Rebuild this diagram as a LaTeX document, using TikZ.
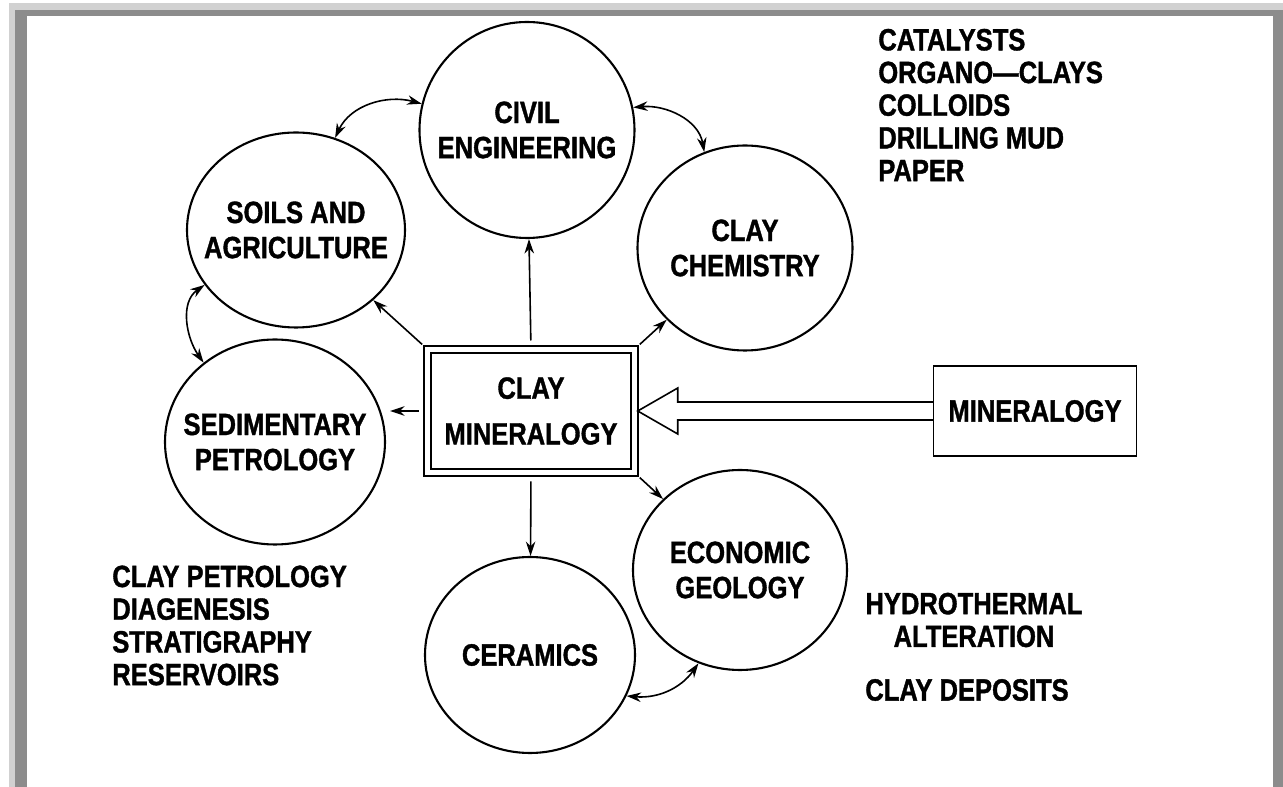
\documentclass[tikz,border=0pt]{standalone}
\usepackage{fontspec}
\setmainfont{Liberation Sans}[FakeStretch=0.83, BoldFeatures={FakeBold=1.2}]
\usetikzlibrary{arrows.meta, calc, shapes.geometric}

\newcommand{\diagfont}{\bfseries\fontsize{17.5}{20}\selectfont}
\newcommand{\listfont}{\bfseries\fontsize{17.5}{18.6}\selectfont}

\begin{document}
\begin{tikzpicture}[
    field/.style={ellipse, draw, line width=.42mm, inner sep=0pt},
    fieldtext/.style={font=\diagfont, align=center, inner sep=0pt},
    mainbox/.style={draw, double, double distance=.11cm, line width=.32mm,
        minimum width=4.13cm, minimum height=2.46cm, align=center,
        font=\diagfont, outer sep=0pt},
    sourcebox/.style={draw, line width=.32mm, minimum width=4.06cm,
        minimum height=1.8cm, font=\diagfont, outer sep=0pt},
    uses/.style={font=\listfont, align=left, inner sep=0pt},
    arrow/.style={-{Stealth[length=2.9mm, width=1.9mm]}, line width=.32mm},
    biarrow/.style={{Stealth[length=2.9mm, width=1.9mm]}-{Stealth[length=2.9mm,
        width=1.9mm]}, line width=.32mm},
]
    %% the page with its grey frame
    \useasboundingbox (-10.62, 8.22) rectangle (15.04, -7.52);
    \fill[white] (-10.62, 8.22) rectangle (15.04, -7.52);
    \fill[black!18] (-10.44, 8.16) rectangle (15.04, -7.52);
    \fill[black!45] (-10.32, 8.02) rectangle (15.04, -7.52);
    \fill[white] (-10.08, 7.9) rectangle (14.84, -7.52);

    %% clay mineralogy in the middle, fed by mineralogy
    \node[mainbox] (clay) at (0, 0) {CLAY\\[6pt]MINERALOGY};
    \node[sourcebox] (mineral) at (10.08, 0) {MINERALOGY};
    \coordinate (tip) at ($(clay.east)+(.07, 0)$);
    \draw[line width=.32mm] ($(mineral.west)+(0, .18)$) -- ($(tip)+(.8, .18)$)
        -- ($(tip)+(.8, .46)$) -- (tip) -- ($(tip)+(.8, -.46)$)
        -- ($(tip)+(.8, -.18)$) -- ($(mineral.west)+(0, -.18)$);

    %% the fields round it
    \node[field, minimum width=4.3cm, minimum height=4.32cm,
        label={[fieldtext]center:{CIVIL\\ENGINEERING}}] (civil) at (-.08, 5.62) {};
    \node[field, minimum width=4.36cm, minimum height=3.9cm,
        label={[fieldtext]center:{SOILS AND\\AGRICULTURE}}] (soils) at (-4.7, 3.62) {};
    \node[field, minimum width=4.4cm, minimum height=4.1cm,
        label={[fieldtext]center:{SEDIMENTARY\\PETROLOGY}}] (sed) at (-5.12, -.62) {};
    \node[field, minimum width=4.2cm, minimum height=3.92cm,
        label={[fieldtext]center:{CERAMICS}}] (ceram) at (-.02, -4.88) {};
    \node[field, minimum width=4.28cm, minimum height=4cm,
        label={[fieldtext]center:{ECONOMIC\\GEOLOGY}}] (econ) at (4.18, -3.18) {};
    \node[field, minimum width=4.3cm, minimum height=4.1cm,
        label={[fieldtext]center:{CLAY\\CHEMISTRY}}] (chem) at (4.28, 3.26) {};

    \draw[arrow, shorten <=.18cm] (clay.north) -- (civil);
    \draw[arrow, shorten <=.18cm] (clay.south) -- (ceram);
    \draw[arrow, shorten <=.15cm] (clay.north east) -- (chem);
    \draw[arrow, shorten <=.15cm] (clay.north west) -- (soils);
    \draw[arrow, shorten <=.15cm] (clay.south east) -- (econ);
    \draw[arrow, shorten <=.18cm, shorten >=.08cm] (clay.west) -- (clay.west -| sed.east);

    %% neighbours talk to each other
    \draw[biarrow] (soils.67) to[out=65, in=165] (civil.166);
    \draw[biarrow] (civil.12) to[out=5, in=100] (chem.113);
    \draw[biarrow] (soils.211) to[out=215, in=125] (sed.132);
    \draw[biarrow] (ceram.-23) to[out=-5, in=-125] (econ.246);

    %% what each side is used for
    \node[uses, anchor=west] (chemuses) at (6.94, 6.12)
        {CATALYSTS\\ORGANO---CLAYS\\COLLOIDS\\DRILLING MUD\\PAPER};
    \node[uses, anchor=west] (seduses) at (-8.38, -4.29)
        {CLAY PETROLOGY\\DIAGENESIS\\STRATIGRAPHY\\RESERVOIRS};
    \node[uses, align=center] (hydro) at (8.86, -4.18)
        {HYDROTHERMAL\\ALTERATION};
    \node[uses, anchor=west] (deposits) at (6.68, -5.58) {CLAY DEPOSITS};
\end{tikzpicture}
\end{document}
